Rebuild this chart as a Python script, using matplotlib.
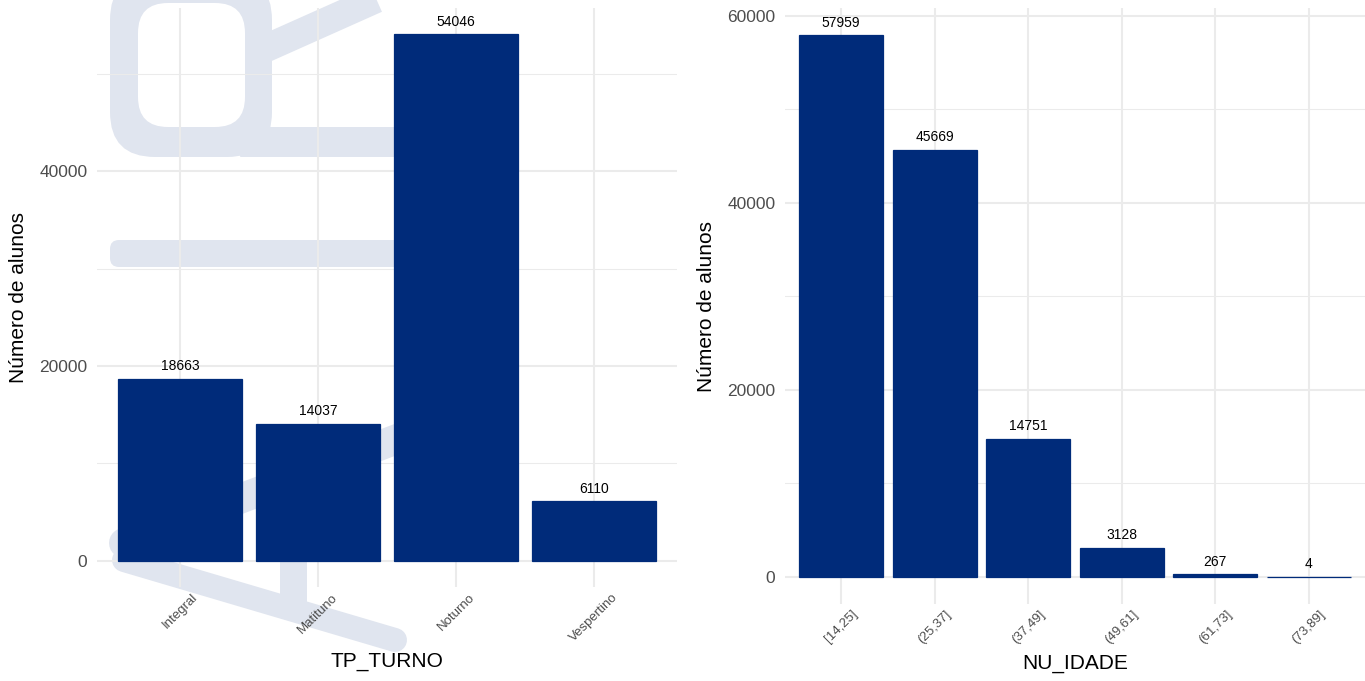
import matplotlib
matplotlib.use("Agg")
import matplotlib.pyplot as plt
from matplotlib.lines import Line2D
from matplotlib.patches import FancyBboxPatch
import numpy as np

plt.rcParams['font.family'] = ['Liberation Sans', 'DejaVu Sans']

# ---- data ----
turno_labels = ["Integral", "Matituno", "Noturno", "Vespertino"]
turno_values = [18663, 14037, 54046, 6110]

idade_labels = ["[14,25]", "(25,37]", "(37,49]", "(49,61]", "(61,73]", "(73,89]"]
idade_values = [57959, 45669, 14751, 3128, 267, 4]

left_yticks = [0, 20000, 40000]
left_minor = [10000, 30000, 50000]
right_yticks = [0, 20000, 40000, 60000]
right_minor = [10000, 30000, 50000]

BAR = "#002B7A"
GRID = "#EBEBEB"
TICKC = "#4D4D4D"
WM = "#E0E5EF"

W, H = 1365, 681
fig = plt.figure(figsize=(W / 100, H / 100), dpi=100)
fig.patch.set_facecolor("white")


def px(x, y):
    return x / W, 1 - y / H


def stroke(pts, width, cap="round", color=WM, z=-5):
    xs = [px(x, y)[0] for x, y in pts]
    ys = [px(x, y)[1] for x, y in pts]
    ln = Line2D(xs, ys, transform=fig.transFigure, color=color, lw=width * 0.72,
                solid_capstyle=cap, solid_joinstyle="round", zorder=z)
    fig.add_artist(ln)


def rrect(x0, y0, x1, y1, r, color=WM, z=-5):
    # pixel coords (top-left origin), rounded rectangle drawn in display pixels
    p = FancyBboxPatch((x0 + r, H - y1 + r), (x1 - x0) - 2 * r, (y1 - y0) - 2 * r,
                       boxstyle=f"round,pad={r}", transform=None,
                       facecolor=color, edgecolor="none", zorder=z)
    fig.add_artist(p)


# ---- faint watermark (background logo) ----
rrect(110, -25, 272, 157, 45)
rrect(138, 3, 245, 127, 30, color="white", z=-4.5)
rrect(240, 127, 460, 157, 1)
stroke([(262, 50), (430, -25)], 28, cap="butt")
rrect(110, 240, 460, 267, 9)
stroke([(124, 543), (405, 436)], 30)
stroke([(124, 560), (395, 640)], 24)
stroke([(293, 480), (293, 605)], 27, cap="butt")


def draw_panel(ax, labels, values, major, minor, xlabel, fs_val):
    n = len(values)
    x = np.arange(n)
    ymax = max(values)
    ax.set_facecolor("none")
    for s in ax.spines.values():
        s.set_visible(False)
    ax.set_xlim(-0.6, n - 1 + 0.6)
    ax.set_ylim(-0.05 * ymax, ymax * 1.05)
    for m in minor:
        ax.axhline(m, color=GRID, lw=0.75, zorder=0)
    for m in major:
        ax.axhline(m, color=GRID, lw=1.5, zorder=0)
    for xi in x:
        ax.axvline(xi, color=GRID, lw=1.5, zorder=0)
    ax.bar(x, values, width=0.9, color=BAR, edgecolor=BAR, linewidth=0.9, zorder=2)
    for xi, v in zip(x, values):
        ax.annotate(str(v), (xi, v), xytext=(0, 4), textcoords="offset points",
                    ha="center", va="bottom", fontsize=fs_val, color="black", zorder=3)
    ax.set_xticks(x)
    ax.set_xticklabels(labels, rotation=45, ha="center", va="top",
                       fontsize=9.5, color=TICKC)
    ax.set_yticks(major)
    ax.set_yticklabels([str(t) for t in major], fontsize=12.5, color=TICKC)
    ax.tick_params(axis="both", length=0)
    ax.tick_params(axis="y", pad=7)
    ax.tick_params(axis="x", pad=3)
    ax.set_xlabel(xlabel, fontsize=15, color="black", labelpad=6)
    ax.set_ylabel("Número de alunos", fontsize=15, color="black", labelpad=8)


ax1 = fig.add_axes([97 / W, 1 - 587 / H, 580 / W, 579 / H])
draw_panel(ax1, turno_labels, turno_values, left_yticks, left_minor, "TP_TURNO", 10)

ax2 = fig.add_axes([785 / W, 1 - 604 / H, 580 / W, 596 / H])
draw_panel(ax2, idade_labels, idade_values, right_yticks, right_minor, "NU_IDADE", 10)

fig.savefig("out.png", dpi=100, facecolor="white")
